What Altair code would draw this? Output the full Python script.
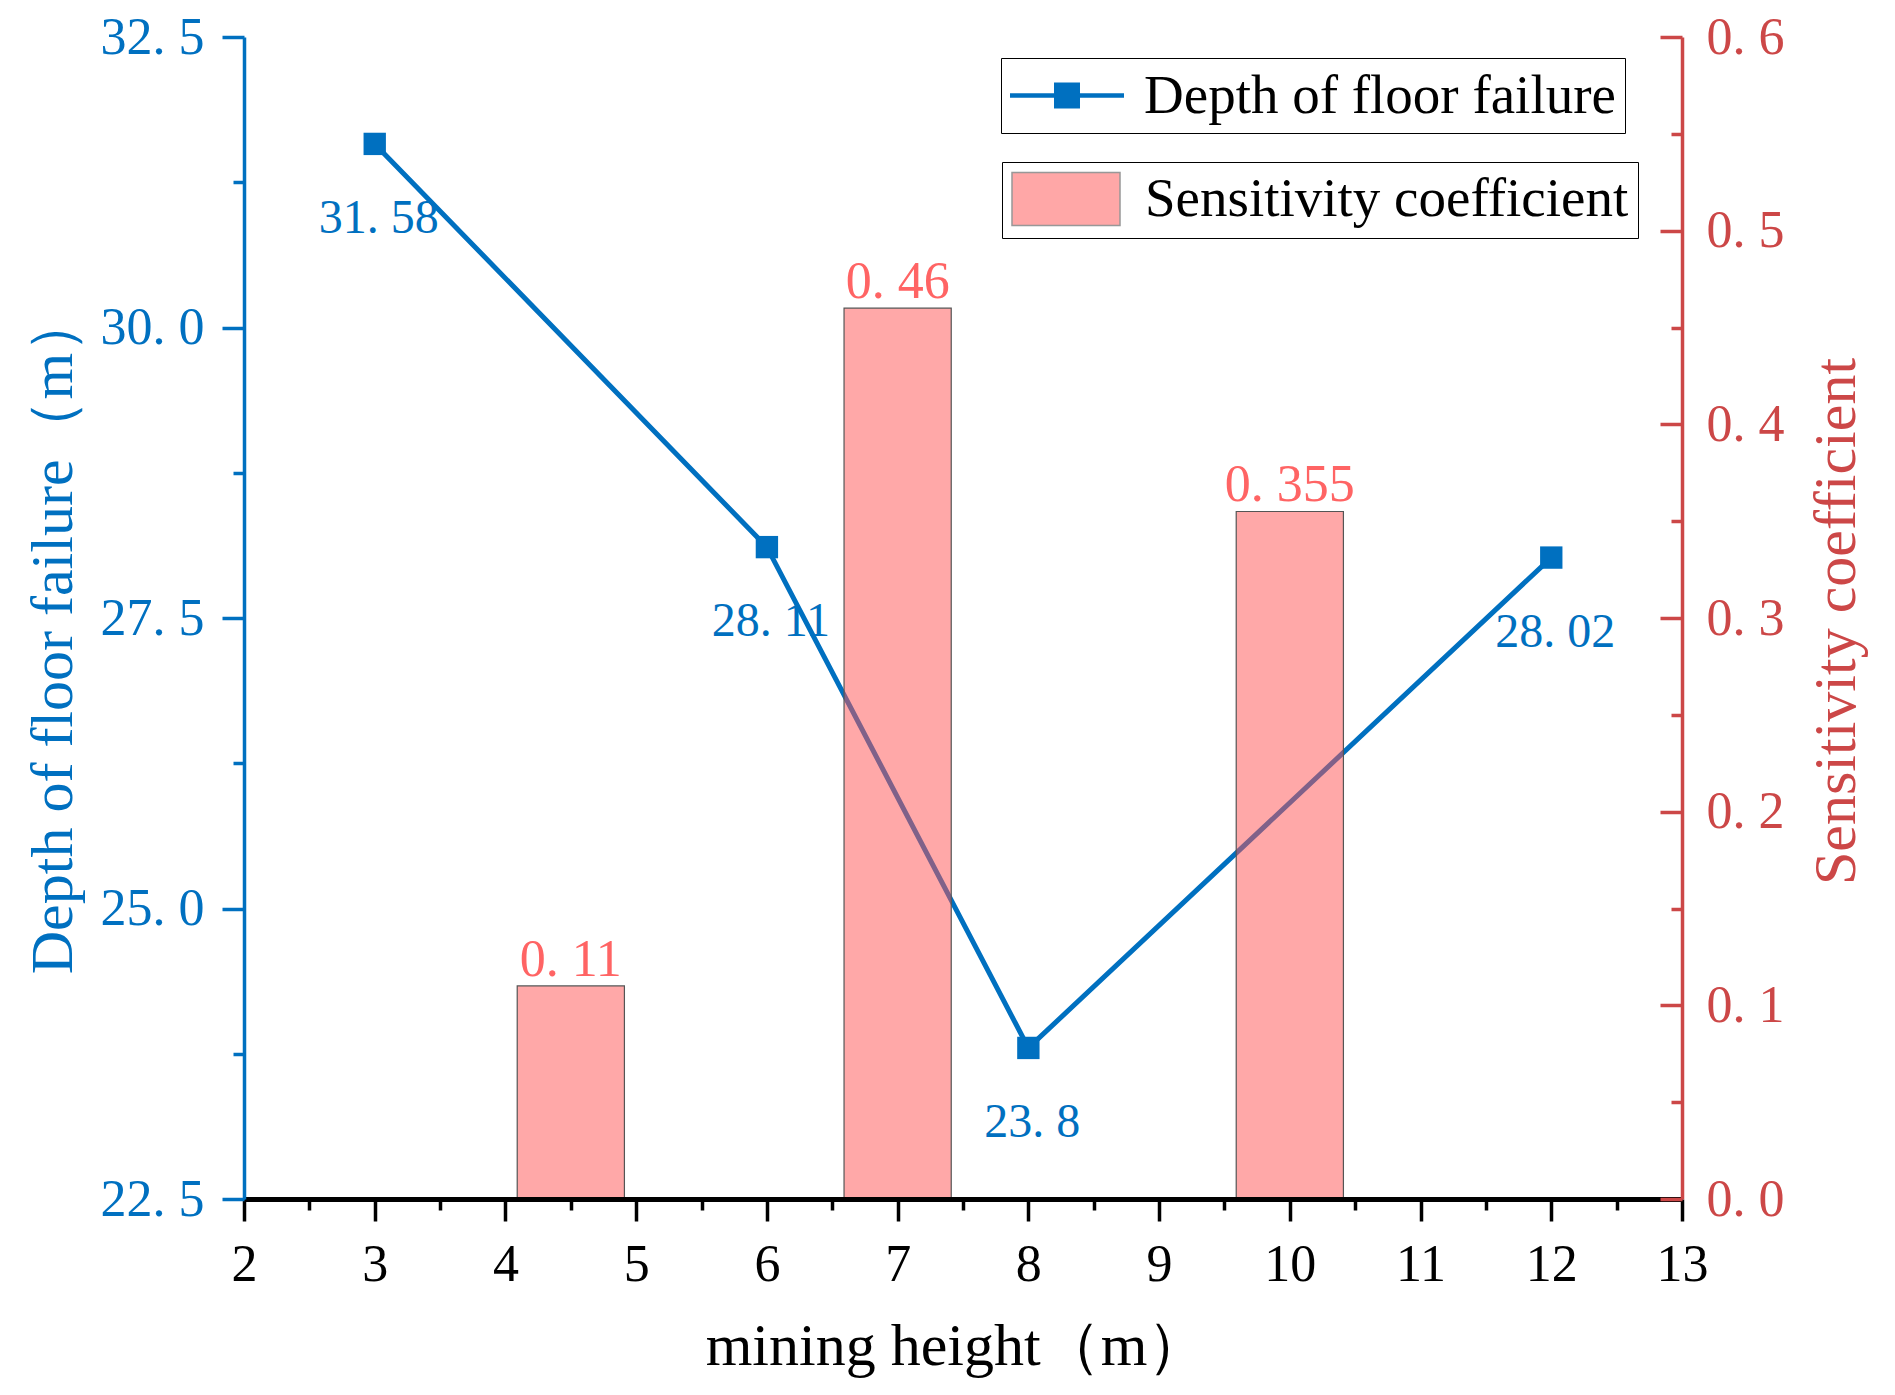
import altair as alt
import pandas as pd

# ---------------- data ----------------
mining_height = [3, 6, 8, 12]
floor_depth = [31.58, 28.11, 23.8, 28.02]

bar_height = [4.5, 7, 10]
sensitivity = [0.11, 0.46, 0.355]

x_tick_values = [2, 2.5, 3, 3.5, 4, 4.5, 5, 5.5, 6, 6.5, 7, 7.5, 8, 8.5,
                 9, 9.5, 10, 10.5, 11, 11.5, 12, 12.5, 13]
left_tick_values = [22.5, 23.75, 25.0, 26.25, 27.5, 28.75, 30.0, 31.25, 32.5]
right_tick_values = [0.0, 0.05, 0.1, 0.15, 0.2, 0.25, 0.3, 0.35, 0.4,
                     0.45, 0.5, 0.55, 0.6]

# ---------------- styles ----------------
BLUE = "#0070C0"
RED = "#CC4747"
BAR_FILL = "#FF5151"
BAR_LABEL = "#FF6464"
SERIF = "Liberation Serif"
BAR_HALF = 0.41
W, H = 1438, 1162


def spaced(v):
    return str(v).replace(".", ". ")


df_line = pd.DataFrame({
    "h": mining_height,
    "depth": floor_depth,
    "label": [spaced(v) for v in floor_depth],
    "series": "Depth of floor failure",
})
df_bar = pd.DataFrame({
    "h": bar_height,
    "sens": sensitivity,
    "label": [spaced(v) for v in sensitivity],
    "series": "Sensitivity coefficient",
})

x_scale = alt.Scale(domain=[2, 13], nice=False, zero=False)
x_axis = alt.Axis(
    values=x_tick_values,
    labelExpr="datum.value % 1 === 0 ? format(datum.value, 'd') : ''",
    tickSize={"condition": {"test": "datum.value % 1 === 0", "value": 22}, "value": 11},
    tickWidth=3.5, tickColor="black",
    domainColor="black", domainWidth=5,
    labelFont=SERIF, labelFontSize=52, labelColor="black",
    labelPadding=18, labelFlush=False, labelOverlap=False,
    title="mining height（m）", titleFont=SERIF, titleFontSize=60,
    titleFontWeight="normal", titleColor="black",
    titleX=712, titleY=147, titleAlign="center", titleBaseline="middle",
    grid=False, zindex=1,
)

left_scale = alt.Scale(domain=[22.5, 32.5], nice=False, zero=False)
left_axis = alt.Axis(
    orient="left",
    values=left_tick_values,
    labelExpr="round((datum.value - 22.5) / 1.25) % 2 === 0 ? replace(format(datum.value, '.1f'), '.', '. ') : ''",
    tickSize={"condition": {"test": "round((datum.value - 22.5) / 1.25) % 2 === 0", "value": 22}, "value": 11},
    tickWidth=3.5, tickColor=BLUE,
    domainColor=BLUE, domainWidth=3.5,
    labelFont=SERIF, labelFontSize=52, labelColor=BLUE,
    labelPadding=18, labelBaseline="middle", labelFlush=False, labelOverlap=False,
    title="Depth of floor failure（m）", titleFont=SERIF, titleFontSize=60,
    titleFontWeight="normal", titleColor=BLUE, titleAngle=270,
    titleX=-191, titleY=596, titleAlign="center", titleBaseline="middle",
    grid=False, zindex=1,
)

right_scale = alt.Scale(domain=[0, 0.6], nice=False, zero=False)
right_axis = alt.Axis(
    orient="left", offset=-W,
    values=right_tick_values,
    labelExpr="round(datum.value * 20) % 2 === 0 ? replace(format(datum.value, '.1f'), '.', '. ') : ''",
    tickSize={"condition": {"test": "round(datum.value * 20) % 2 === 0", "value": 22}, "value": 11},
    tickWidth=3.5, tickColor=RED,
    domainColor=RED, domainWidth=3.5,
    labelFont=SERIF, labelFontSize=52, labelColor=RED,
    labelPadding=-46, labelAlign="left", labelBaseline="middle",
    labelFlush=False, labelOverlap=False,
    title="Sensitivity coefficient", titleFont=SERIF, titleFontSize=60,
    titleFontWeight="normal", titleColor=RED, titleAngle=270,
    titleX=154, titleY=584, titleAlign="center", titleBaseline="middle",
    grid=False, zindex=1,
)

line_legend = alt.Legend(
    title=None, orient="none", legendX=757, legendY=21,
    symbolType="M-1,-0.08H3V0.08H-1Z M0.544,-0.456H1.456V0.456H0.544Z",
    symbolSize=3249, symbolStrokeWidth=0, symbolOpacity=1,
    labelFont=SERIF, labelFontSize=55, labelColor="black",
    labelOffset=77, labelLimit=1000, labelBaseline="middle",
    padding=9, strokeColor="black", fillColor="white",
)
bar_legend = alt.Legend(
    title=None, orient="none", legendX=758, legendY=125,
    symbolType="M-1,-0.98H3V0.98H-1Z",
    symbolSize=2916, symbolStrokeColor="#333333", symbolStrokeWidth=1.5,
    symbolOpacity=0.5,
    labelFont=SERIF, labelFontSize=55, labelColor="black",
    labelOffset=78, labelLimit=1000, labelBaseline="middle",
    padding=9, strokeColor="black", fillColor="white",
)

X = alt.X("h:Q", scale=x_scale, axis=x_axis)
Y_left = alt.Y("depth:Q", scale=left_scale, axis=left_axis)

base_line = alt.Chart(df_line)
line = base_line.mark_line(strokeWidth=5, color=BLUE).encode(x=X, y=Y_left)
points = base_line.mark_point(shape="square", filled=True, size=500, opacity=1).encode(
    x=X, y=Y_left,
    color=alt.Color("series:N", scale=alt.Scale(range=[BLUE]), legend=line_legend),
)
line_labels = base_line.mark_text(
    font=SERIF, fontSize=48, color=BLUE, baseline="middle", dy=75, dx=4
).encode(x=X, y=Y_left, text="label:N")

left_layer = alt.layer(line, points, line_labels)

Y_right = alt.Y("sens:Q", scale=right_scale, axis=right_axis)
base_bar = alt.Chart(df_bar).transform_calculate(
    h0=f"datum.h - {BAR_HALF}", h1=f"datum.h + {BAR_HALF}"
)
bars = base_bar.mark_bar(fillOpacity=0.5, stroke="#555555", strokeWidth=1.2).encode(
    x=alt.X("h0:Q", scale=x_scale, axis=x_axis),
    x2="h1:Q",
    y=Y_right,
    y2=alt.datum(0),
    fill=alt.Fill("series:N", scale=alt.Scale(range=[BAR_FILL]), legend=bar_legend),
)
bar_labels = base_bar.mark_text(
    font=SERIF, fontSize=52, color=BAR_LABEL, baseline="alphabetic", dy=-10
).encode(x=alt.X("h:Q", scale=x_scale, axis=x_axis), y=Y_right, text="label:N")

right_layer = alt.layer(bars, bar_labels)

chart = alt.layer(left_layer, right_layer).resolve_scale(
    y="independent"
).properties(
    width=W, height=H,
    autosize=alt.AutoSizeParams(type="none"),
    padding={"left": 236, "top": 29, "right": 205, "bottom": 180},
    background="white",
).configure_view(strokeWidth=0)

chart.save("out.html", embed_options={"renderer": "svg", "actions": False})
